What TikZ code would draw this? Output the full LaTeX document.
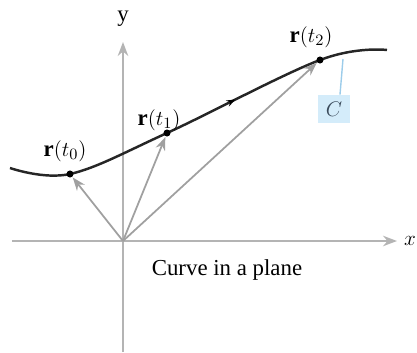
\documentclass[tikz,border=0pt]{standalone}
\usepackage{fontspec}
\setmainfont{Liberation Serif}
\usetikzlibrary{arrows.meta,decorations.markings}
\definecolor{axisgray}{HTML}{B4B4B4}
\definecolor{vecgray}{HTML}{A0A0A0}
\definecolor{tagblue}{HTML}{D4ECFA}
\definecolor{tagline}{HTML}{9CCCEA}
\definecolor{tagtext}{HTML}{3A4A5A}

\begin{document}
\begin{tikzpicture}[x=1cm,y=1cm,>=Stealth]
  \tikzstyle{axis}=[draw=axisgray, line width=1.1pt]
  \tikzstyle{vec}=[draw=vecgray, line width=1pt, ->, shorten >=2.5pt]
  \tikzstyle{curve}=[draw=black!85, line width=1.4pt]
  \tikzstyle{lbl}=[font=\fontsize{13}{15}\selectfont, inner sep=1pt]
  \useasboundingbox (-2.46,-2.22) rectangle (5.88,4.82);

  % axes
  \coordinate (o) at (0,0);
  \coordinate (xa) at (-2.22,0);
  \coordinate (xb) at (5.48,0);
  \coordinate (ya) at (0,-2.22);
  \coordinate (yb) at (0,3.98);
  \draw[axis, ->] (xa) -- (xb);
  \draw[axis, ->] (ya) -- (yb);
  \node[lbl] (xlab) at (5.74,0) {$x$};
  \node[lbl] (ylab) at (0,4.44) {y};

  % curve C
  \coordinate (s) at (-2.26,1.46);
  \coordinate (p0) at (-1.06,1.34);
  \coordinate (p1) at (0.88,2.16);
  \coordinate (p2) at (3.94,3.62);
  \coordinate (e) at (5.28,3.82);
  \draw[curve, postaction={decorate},
    decoration={markings, mark=at position 0.60 with {\arrow[black]{Stealth[length=5pt]}}}]
    plot[smooth, tension=0.6] coordinates {(s) (p0) (p1) (p2) (e)};

  \foreach \p in {p0,p1,p2} {
    \draw[vec] (o) -- (\p);
    \fill[black] (\p) circle (2pt);
  }

  \node[lbl] (rt0) at (-1.16,1.80) {$\mathbf{r}(t_0)$};
  \node[lbl] (rt1) at (0.72,2.42) {$\mathbf{r}(t_1)$};
  \node[lbl] (rt2) at (3.76,4.08) {$\mathbf{r}(t_2)$};

  % tag
  \coordinate (cpt) at (4.40,3.64);
  \node[lbl, fill=tagblue, text=tagtext, minimum width=0.64cm, minimum height=0.56cm] (ctag) at (4.22,2.64) {$C$};
  \draw[tagline, line width=0.8pt] (ctag.north) ++(0.12,0) -- (cpt);

  \node[lbl] (cap) at (2.08,-0.58) {Curve in a plane};
\end{tikzpicture}
\end{document}
